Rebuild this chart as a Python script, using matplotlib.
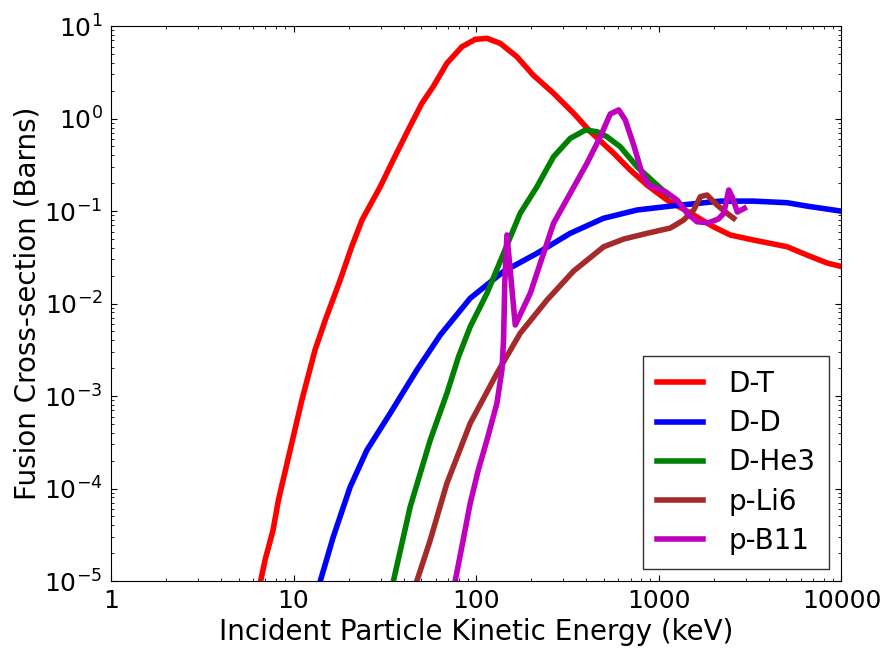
import numpy as np
import matplotlib
matplotlib.use('Agg')
import matplotlib.pyplot as plt

# cross-section curves, energy in keV, sigma in barns
dt_e = [6.6, 6.98, 7.72, 8.26, 9.57, 11.1, 13.1, 14.9, 18.0, 20.8, 23.7, 29.8, 35.1, 42.4,
        50.4, 58.1, 69.1, 83.5, 98.8, 114.6, 135.4, 167, 205, 264, 340, 422, 564, 698,
        861, 1109, 1488, 1990, 2466, 3296, 5040, 6480, 8350, 10090]
dt_s = [1e-5, 1.69e-5, 3.56e-5, 7.5e-5, 2.6e-4, 9.05e-4, 3.14e-3, 6.6e-3, 0.018, 0.0411,
        0.080, 0.183, 0.356, 0.752, 1.46, 2.21, 3.96, 5.97, 7.18, 7.36, 6.5, 4.66, 2.95,
        1.89, 1.15, 0.72, 0.424, 0.277, 0.191, 0.1315, 0.095, 0.0676, 0.055, 0.0486,
        0.0411, 0.0334, 0.0274, 0.025]

dd_e = [14.0, 16.5, 20.4, 25.2, 33.8, 47.3, 63.5, 92.7, 140.6, 215, 327, 497, 760, 1156,
        2173, 3296, 5040, 6480, 9880]
dd_s = [1e-5, 3.01e-5, 1.04e-4, 2.6e-4, 6.5e-4, 1.91e-3, 4.56e-3, 0.0114, 0.0221, 0.0349,
        0.0574, 0.0834, 0.1026, 0.113, 0.128, 0.128, 0.123, 0.113, 0.1]

dhe3_e = [35.2, 43.5, 56.0, 69.1, 80.0, 92.7, 114.5, 141.2, 174, 215, 265, 327, 396, 459,
          520, 615, 760, 978, 1128]
dhe3_s = [1e-5, 6.35e-5, 3.34e-4, 1.07e-3, 2.66e-3, 5.62e-3, 0.0129, 0.0349, 0.0944, 0.183,
          0.386, 0.61, 0.751, 0.72, 0.636, 0.495, 0.301, 0.191, 0.149]

pli6_e = [47.3, 56.0, 69.1, 92.7, 129.8, 174, 244, 341, 499, 642, 861, 1156, 1368, 1552,
          1688, 1837, 2084, 2365, 2570]
pli6_s = [1e-5, 2.77e-5, 1.14e-4, 5.07e-4, 1.76e-3, 4.76e-3, 0.0109, 0.0224, 0.0411, 0.0498,
          0.0574, 0.0655, 0.080, 0.1026, 0.143, 0.149, 0.116, 0.0944, 0.0834]

pb11_e = [76.7, 83.8, 92.7, 102.6, 114.5, 129.8, 138.3, 141.2, 143.3, 147.3, 163.6, 197.7,
          265, 327, 404, 478, 542, 603, 655, 728, 809, 880, 1086, 1259, 1429, 1619, 1868,
          2118, 2266, 2415, 2518, 2692, 2939]
pb11_s = [1e-5, 2.45e-5, 6.92e-5, 1.58e-4, 3.34e-4, 8.34e-4, 1.91e-3, 4.03e-3, 0.0167,
          0.0551, 5.86e-3, 0.0129, 0.0736, 0.155, 0.328, 0.635, 1.12, 1.24, 0.964, 0.518,
          0.256, 0.191, 0.162, 0.1315, 0.0944, 0.0766, 0.0746, 0.082, 0.0944, 0.169, 0.143,
          0.0975, 0.107]

plt.rcParams['font.size'] = 20
plt.rcParams['xtick.labelsize'] = 18
plt.rcParams['ytick.labelsize'] = 18
plt.rcParams['xtick.direction'] = 'in'
plt.rcParams['ytick.direction'] = 'in'
plt.rcParams['xtick.top'] = True
plt.rcParams['ytick.right'] = True
plt.rcParams['xtick.major.size'] = 4
plt.rcParams['ytick.major.size'] = 4
plt.rcParams['xtick.minor.size'] = 2
plt.rcParams['ytick.minor.size'] = 2
plt.rcParams['xtick.major.pad'] = 6
plt.rcParams['ytick.major.pad'] = 6

fig = plt.figure(figsize=(8.85, 6.51), dpi=100)
ax = fig.add_axes([0.1254, 0.1075, 0.8254, 0.8525])

ax.plot(dt_e, dt_s, color='#ff0000', lw=4, label='D-T')
ax.plot(dd_e, dd_s, color='#0000ff', lw=4, label='D-D')
ax.plot(dhe3_e, dhe3_s, color='#008000', lw=4, label='D-He3')
ax.plot(pli6_e, pli6_s, color='#a52a2a', lw=4, label='p-Li6')
ax.plot(pb11_e, pb11_s, color='#bf00bf', lw=4, label='p-B11')

ax.set_xscale('log')
ax.set_yscale('log')
ax.set_xlim(1, 10000)
ax.set_ylim(1e-5, 10)
ax.set_xticks([1, 10, 100, 1000, 10000])
ax.set_xticklabels(['1', '10', '100', '1000', '10000'])

ax.set_xlabel('Incident Particle Kinetic Energy (keV)', labelpad=3)
ax.set_ylabel('Fusion Cross-section (Barns)', labelpad=2)

leg = ax.legend(loc='lower right', fancybox=False, handlelength=1.65, borderpad=0.5,
                labelspacing=0.4, handletextpad=0.9, borderaxespad=0.45)
leg.get_frame().set_edgecolor('black')
leg.get_frame().set_linewidth(1.0)

fig.savefig('out.png', dpi=100)
